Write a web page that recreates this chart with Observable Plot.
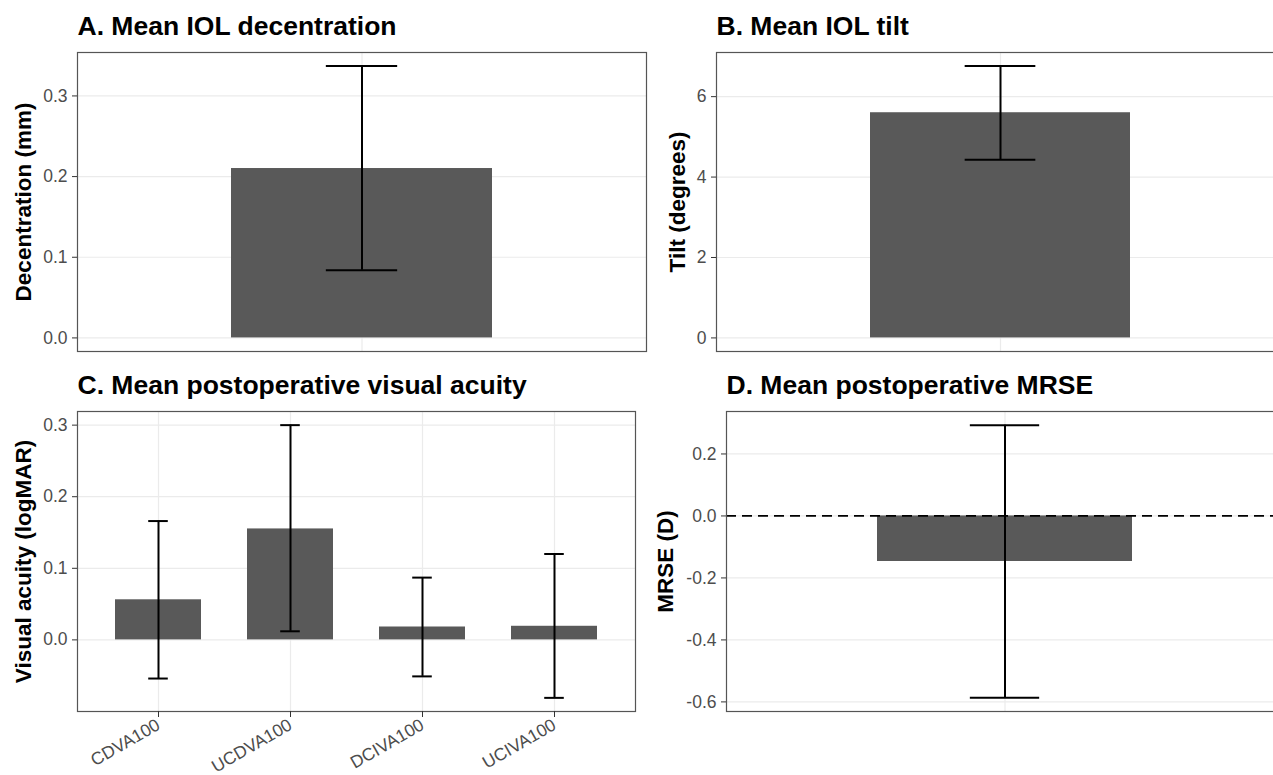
<!DOCTYPE html>
<html><head><meta charset="utf-8">
<script src="https://cdn.jsdelivr.net/npm/d3@7"></script>
<script src="https://cdn.jsdelivr.net/npm/@observablehq/plot@0.6"></script>
<style>
html,body{margin:0;padding:0;background:#fff;}
#root{position:relative;width:1273px;height:775px;overflow:hidden;background:#fff;font-family:"Liberation Sans",Arial,Helvetica,sans-serif;}
.panel{position:absolute;}
.panel svg{overflow:visible;max-width:none !important;}
</style></head>
<body><div id="root"></div>
<script>
// ---- Data ----
const decentrationCategories = ["Decentration"];
const decentrationMean  = [0.21];
const decentrationLower = [0.084];
const decentrationUpper = [0.337];
const decentrationTicks = [0, 0.1, 0.2, 0.3];
const decentrationTickLabels = ["0.0", "0.1", "0.2", "0.3"];

const tiltCategories = ["Tilt"];
const tiltMean  = [5.60];
const tiltLower = [4.43];
const tiltUpper = [6.76];
const tiltTicks = [0, 2, 4, 6];
const tiltTickLabels = ["0", "2", "4", "6"];

const acuityCategories = ["CDVA100", "UCDVA100", "DCIVA100", "UCIVA100"];
const acuityMean  = [0.056, 0.155, 0.018, 0.019];
const acuityLower = [-0.054, 0.012, -0.051, -0.081];
const acuityUpper = [0.166, 0.300, 0.087, 0.120];
const acuityTicks = [0, 0.1, 0.2, 0.3];
const acuityTickLabels = ["0.0", "0.1", "0.2", "0.3"];

const mrseCategories = ["MRSE"];
const mrseMean  = [-0.147];
const mrseLower = [-0.587];
const mrseUpper = [0.293];
const mrseTicks = [-0.6, -0.4, -0.2, 0, 0.2];
const mrseTickLabels = ["-0.6", "-0.4", "-0.2", "0.0", "0.2"];

const titles = ["A. Mean IOL decentration", "B. Mean IOL tilt", "C. Mean postoperative visual acuity", "D. Mean postoperative MRSE"];
const yLabels = ["Decentration (mm)", "Tilt (degrees)", "Visual acuity (logMAR)", "MRSE (D)"];

// ---- Layout / style ----
const FONT = '"Liberation Sans", Arial, Helvetica, sans-serif';
const BAR = "#595959", GRID = "#ebebeb", TICKTXT = "#4d4d4d";
const CAP_W = 0.15, EXPAND = 0.6;

function panel(cfg) {
  const {left, top, width, height, frame: [fx0, fy0, fx1, fy1], cats, mean, lower, upper,
         barW, ticks, tickLabels, title, ylabel, labelOffset, xAxis, zeroLine} = cfg;
  const data = cats.map((c, i) => ({cat: c, mean: mean[i], lo: lower[i], hi: upper[i]}));
  const ext = d3.extent([0, ...mean, ...lower, ...upper]);
  const pad = (ext[1] - ext[0]) * 0.05;
  const innerW = fx1 - fx0;
  const unit = innerW / (cats.length - 1 + 2 * EXPAND);
  const pi = 1 - barW, po = (2 * EXPAND - 1 + pi) / 2;
  const capInset = (barW - CAP_W) / 2 * unit;
  const fmt = d => tickLabels[ticks.indexOf(d)];
  const svg = Plot.plot({
    width, height,
    marginLeft: fx0 - left, marginRight: left + width - fx1,
    marginTop: fy0 - top, marginBottom: top + height - fy1,
    style: {fontFamily: FONT, background: "transparent", overflow: "visible", maxWidth: "none"},
    x: {type: "band", domain: cats, paddingInner: pi, paddingOuter: po, align: 0.5, axis: null},
    y: {domain: [ext[0] - pad, ext[1] + pad]},
    marks: [
      Plot.gridY(ticks, {stroke: GRID, strokeOpacity: 1, strokeWidth: 1.2}),
      Plot.gridX(cats, {stroke: GRID, strokeOpacity: 1, strokeWidth: 1.2}),
      Plot.barY(data, {x: "cat", y: "mean", fill: BAR}),
      zeroLine ? Plot.ruleY([0], {stroke: "black", strokeWidth: 1.8, strokeDasharray: "10,6"}) : null,
      Plot.ruleX(data, {x: "cat", y1: "lo", y2: "hi", stroke: "black", strokeWidth: 2}),
      Plot.tickY(data, {x: "cat", y: "lo", stroke: "black", strokeWidth: 2, insetLeft: capInset, insetRight: capInset}),
      Plot.tickY(data, {x: "cat", y: "hi", stroke: "black", strokeWidth: 2, insetLeft: capInset, insetRight: capInset}),
      Plot.frame({stroke: "#555", strokeWidth: 1.2}),
      Plot.axisY(ticks, {tickSize: 5, tickPadding: 5, tickFormat: fmt, fontSize: 17.5, fill: TICKTXT, stroke: "#333", label: null}),
      xAxis ? Plot.axisX({tickSize: 6, tickPadding: 6, tickRotate: -30, fontSize: 17.5, fill: TICKTXT, stroke: "#333", label: null}) : null,
      Plot.text([ylabel], {frameAnchor: "left", rotate: -90, dx: -labelOffset, lineAnchor: "top", textAnchor: "middle",
                           fontSize: 22.5, fontWeight: "bold", fill: "black"}),
      Plot.text([title], {frameAnchor: "top-left", dy: -18, textAnchor: "start", lineAnchor: "bottom",
                          fontSize: 26.5, fontWeight: "bold", fill: "black"})
    ]
  });
  svg.style.maxWidth = "none";
  const div = document.createElement("div");
  div.className = "panel";
  div.style.left = left + "px";
  div.style.top = top + "px";
  div.style.width = width + "px";
  div.style.height = height + "px";
  div.appendChild(svg);
  document.getElementById("root").appendChild(div);
}

panel({left: 0, top: 0, width: 660, height: 360, frame: [77, 52, 646, 351],
  cats: decentrationCategories, mean: decentrationMean, lower: decentrationLower, upper: decentrationUpper,
  barW: 0.55, ticks: decentrationTicks, tickLabels: decentrationTickLabels,
  title: titles[0], ylabel: yLabels[0], labelOffset: 62});

panel({left: 640, top: 0, width: 660, height: 360, frame: [716, 52, 1284, 351],
  cats: tiltCategories, mean: tiltMean, lower: tiltLower, upper: tiltUpper,
  barW: 0.55, ticks: tiltTicks, tickLabels: tiltTickLabels,
  title: titles[1], ylabel: yLabels[1], labelOffset: 47});

panel({left: 0, top: 360, width: 660, height: 415, frame: [77, 411, 635, 711],
  cats: acuityCategories, mean: acuityMean, lower: acuityLower, upper: acuityUpper,
  barW: 0.65, ticks: acuityTicks, tickLabels: acuityTickLabels,
  title: titles[2], ylabel: yLabels[2], labelOffset: 62, xAxis: true});

panel({left: 640, top: 360, width: 660, height: 415, frame: [726, 411, 1283, 711],
  cats: mrseCategories, mean: mrseMean, lower: mrseLower, upper: mrseUpper,
  barW: 0.55, ticks: mrseTicks, tickLabels: mrseTickLabels,
  title: titles[3], ylabel: yLabels[3], labelOffset: 69, zeroLine: true});
</script>
</body></html>
